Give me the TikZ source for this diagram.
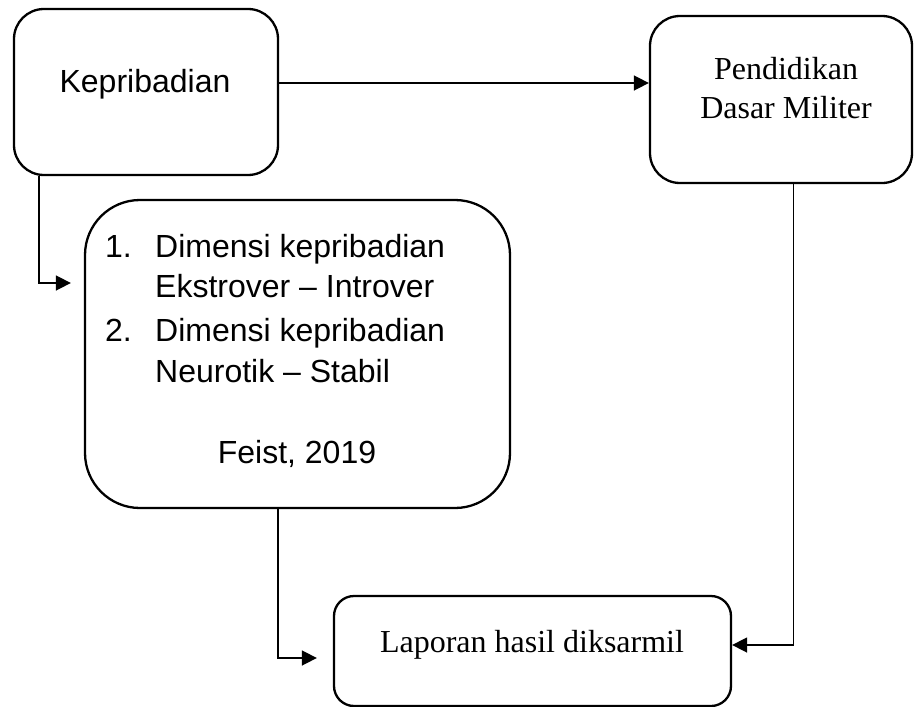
\documentclass[tikz,border=0pt]{standalone}
\usepackage{fontspec}
\setmainfont{Liberation Serif}
\newfontfamily\arialfont{Liberation Sans}
\usetikzlibrary{arrows.meta}
\tikzset{
  kotak/.style={draw, line width=2.3pt, rounded corners=#1, inner sep=0pt},
  kotak/.default=30pt,
  panah/.style={line width=1.6pt, -{Triangle[length=15pt,width=15pt]}},
  tulisan/.style={inner sep=0pt, font=\arialfont\fontsize{32}{38}\selectfont},
  tulisanserif/.style={inner sep=0pt, font=\fontsize{32}{38}\selectfont},
}
\begin{document}
\begin{tikzpicture}[x=1pt,y=-1pt]
\useasboundingbox (0,0) rectangle (914,707);

\node[kotak, minimum width=264pt, minimum height=166pt] (kep) at (146,92) {};
\node[kotak, minimum width=262pt, minimum height=167pt] (pdm) at (781,99.5) {};
\node[kotak=55pt, minimum width=425pt, minimum height=308pt] (dim) at (297.5,354) {};
\node[kotak=20pt, minimum width=397pt, minimum height=110pt] (lap) at (532.5,651) {};

\node[tulisan, anchor=base] (tkep) at (145,92) {Kepribadian};

\node[tulisanserif, anchor=base] (tpdm1) at (786,79) {Pendidikan};
\node[tulisanserif, anchor=base] (tpdm2) at (786,118) {Dasar Militer};

\node[tulisan, anchor=base west] (no1) at (105,257) {1.};
\node[tulisan, anchor=base west] (dim1) at (155,257) {Dimensi kepribadian};
\node[tulisan, anchor=base west] (dim2) at (155,297) {Ekstrover – Introver};
\node[tulisan, anchor=base west] (no2) at (105,341) {2.};
\node[tulisan, anchor=base west] (dim3) at (155,341) {Dimensi kepribadian};
\node[tulisan, anchor=base west] (dim4) at (155,382) {Neurotik – Stabil};
\node[tulisan, anchor=base] (feist) at (297,463) {Feist, 2019};

\node[tulisanserif, anchor=base] (tlap) at (532,652) {Laporan hasil diksarmil};

% panah
\draw[panah] ([yshift=9pt]kep.east) -- ([yshift=9pt]kep.east -| pdm.west);
\draw[panah, shorten >=13pt] ([xshift=26pt]kep.south west) |- ([yshift=71pt]dim.west);
\draw[panah, shorten >=16pt] ([xshift=-19.5pt]dim.south) |- ([yshift=-7pt]lap.west);
\draw[panah] ([xshift=12.5pt]pdm.south) |- ([yshift=6pt]lap.east);
\end{tikzpicture}
\end{document}
